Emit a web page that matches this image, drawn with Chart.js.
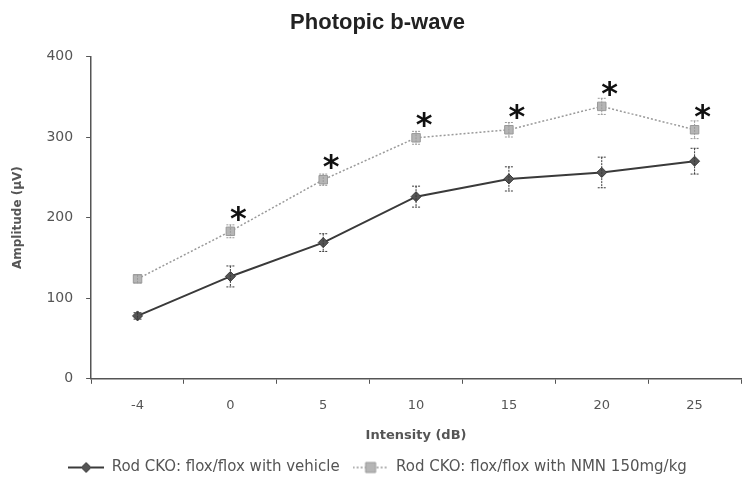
<!DOCTYPE html>
<html lang="en">
  <head>
    <meta charset="UTF-8" />
    <title>Photopic b-wave</title>
    <script src="https://cdn.jsdelivr.net/npm/chart.js"></script>
    <style>
      html, body { margin: 0; padding: 0; background: #fff; overflow: hidden; }
      #wrap { width: 748px; height: 485px; }
    </style>
  </head>
  <body>
    <div id="wrap"><canvas id="myChart"></canvas></div>
    <script>
      // x categories (dB)
      var intensity = ["-4", "0", "5", "10", "15", "20", "25"];
      // vehicle group
      var vehicle = [78, 127, 169, 226, 248, 256, 270];
      var vehicleErr = [4, 13, 11, 13, 15, 19, 16];
      // NMN group
      var nmn = [124, 183, 247, 299, 309, 338, 309];
      var nmnErr = [5, 8, 7, 8, 9, 10, 11];
      // significance marks above the NMN points
      var signif = ["", "*", "*", "*", "*", "*", "*"];

      var FONT = "DejaVu Sans";

      // little "line + marker" swatch for the legend, excel style
      function swatch(ds) {
        var c = document.createElement("canvas");
        c.width = 36;
        c.height = 14;
        var g = c.getContext("2d");
        g.strokeStyle = ds.borderColor;
        g.lineWidth = ds.borderWidth;
        if (ds.borderDash) g.setLineDash(ds.borderDash);
        g.beginPath();
        g.moveTo(0, 7);
        g.lineTo(36, 7);
        g.stroke();
        g.setLineDash([]);
        g.fillStyle = ds.backgroundColor;
        g.strokeStyle = ds.borderColor;
        g.lineWidth = 1;
        g.beginPath();
        if (ds.pointStyle === "rectRot") {
          g.moveTo(18, 2); g.lineTo(23, 7); g.lineTo(18, 12); g.lineTo(13, 7);
          g.closePath();
        } else {
          g.rect(13, 2, 10, 10);
        }
        g.fill();
        g.stroke();
        return c;
      }

      var errorBars = {
        id: "errorBars",
        afterDatasetsDraw: function (chart) {
          var ctx = chart.ctx;
          var y = chart.scales.y;
          chart.data.datasets.forEach(function (ds, i) {
            var meta = chart.getDatasetMeta(i);
            ctx.save();
            ctx.strokeStyle = ds.borderColor;
            ctx.lineWidth = 1;
            ctx.setLineDash([2, 1]);
            meta.data.forEach(function (pt, j) {
              var e = ds.errors[j];
              var top = y.getPixelForValue(ds.data[j] + e);
              var bot = y.getPixelForValue(ds.data[j] - e);
              ctx.beginPath();
              ctx.moveTo(pt.x, top);
              ctx.lineTo(pt.x, bot);
              ctx.moveTo(pt.x - 4, top);
              ctx.lineTo(pt.x + 4, top);
              ctx.moveTo(pt.x - 4, bot);
              ctx.lineTo(pt.x + 4, bot);
              ctx.stroke();
            });
            ctx.restore();
          });
          // stars
          var meta = chart.getDatasetMeta(1);
          ctx.save();
          ctx.fillStyle = "#111";
          ctx.font = "bold 32px 'DejaVu Sans'";
          ctx.textAlign = "center";
          ctx.textBaseline = "middle";
          meta.data.forEach(function (pt, j) {
            if (signif[j]) ctx.fillText(signif[j], pt.x + 8, pt.y - 11);
          });
          ctx.restore();
        },
      };

      var ctx = document.getElementById("myChart").getContext("2d");
      new Chart(ctx, {
        type: "line",
        data: {
          labels: intensity,
          datasets: [
            {
              label: "Rod CKO: flox/flox with vehicle",
              data: vehicle,
              errors: vehicleErr,
              borderColor: "#3a3a3a",
              backgroundColor: "#555",
              borderWidth: 2,
              pointStyle: "rectRot",
              pointRadius: 5,
              pointBorderWidth: 1,
              tension: 0,
            },
            {
              label: "Rod CKO: flox/flox with NMN 150mg/kg",
              data: nmn,
              errors: nmnErr,
              borderColor: "#9a9a9a",
              backgroundColor: "#b5b5b5",
              borderWidth: 1.5,
              borderDash: [2, 2],
              pointStyle: "rect",
              pointRadius: 6,
              pointBorderWidth: 1,
              tension: 0,
            },
          ],
        },
        options: {
          responsive: true,
          maintainAspectRatio: false,
          animation: false,
          layout: { padding: { left: 7, right: 0, top: 7, bottom: 0 } },
          scales: {
            x: {
              offset: true,
              grid: { drawOnChartArea: false, offset: true, tickLength: 5, color: "#555" },
              border: { color: "#555", width: 1.5 },
              ticks: { color: "#555", font: { family: FONT, size: 13 }, padding: 14 },
              title: {
                display: true,
                text: "Intensity (dB)",
                color: "#555",
                font: { family: FONT, size: 13, weight: "bold" },
                padding: { top: 0 },
              },
            },
            y: {
              min: 0,
              max: 400,
              ticks: { stepSize: 100, color: "#555", font: { family: FONT, size: 14 }, padding: 13 },
              grid: { drawOnChartArea: false, tickLength: 5, color: "#555" },
              border: { color: "#555", width: 1.5 },
              title: {
                display: true,
                text: "Amplitude (µV)",
                color: "#555",
                font: { family: FONT, size: 12, weight: "bold" },
                padding: { bottom: 8 },
              },
            },
          },
          plugins: {
            title: {
              display: true,
              text: "Photopic b-wave",
              color: "#222",
              font: { family: "Liberation Sans", size: 22, weight: "bold" },
              padding: { top: 3, bottom: 20 },
            },
            legend: {
              position: "bottom",
              labels: {
                usePointStyle: true,
                pointStyleWidth: 36,
                color: "#555",
                font: { family: FONT, size: 15 },
                padding: 13,
                generateLabels: function (chart) {
                  return chart.data.datasets.map(function (ds, i) {
                    return {
                      text: ds.label,
                      pointStyle: swatch(ds),
                      fontColor: "#555",
                      lineWidth: 0,
                      datasetIndex: i,
                    };
                  });
                },
              },
            },
          },
        },
        plugins: [errorBars],
      });
    </script>
  </body>
</html>
